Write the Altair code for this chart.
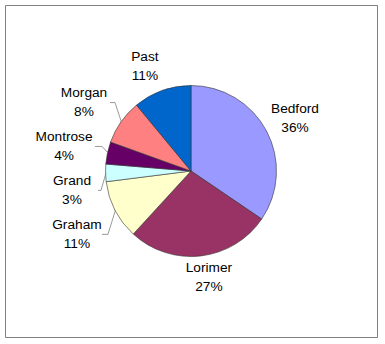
import math
import altair as alt
import pandas as pd

# ---- data ----
names = ["Bedford", "Lorimer", "Graham", "Grand", "Montrose", "Morgan", "Past"]
values = [34.5, 27.3, 11.2, 3.3, 4.2, 8.5, 11.0]
pct_labels = ["36%", "27%", "11%", "3%", "4%", "8%", "11%"]
colors = ["#9999FF", "#993366", "#FFFFCC", "#CCFFFF", "#660066", "#FF8080", "#0066CC"]

# ---- layout ----
W, H = 372, 332
R = 85.5
cx, cy = W / 2, H / 2
LINE_H = 19
label_r = [116.5, 108, 130.5, 120.6, 129.3, 127, 114.2]
label_nudge = [1.1, -2.9, -1.7, -8.0, -1.3, -2.5, -4.0]
leader_start = {2: 25, 3: 26, 4: 31, 5: 26}
leader_elbow = {2: 6, 3: 3, 4: 7, 5: 5}

total = sum(values)
mids = []
acc = 0.0
for v in values:
    mids.append((acc + v / 2) / total * 360.0)
    acc += v

df = pd.DataFrame({"name": names, "value": values, "idx": list(range(len(names)))})

lab_rows = []
for i, n in enumerate(names):
    a = math.radians(mids[i] + label_nudge[i])
    x = cx + label_r[i] * math.sin(a)
    y = cy - label_r[i] * math.cos(a)
    lab_rows.append({"name": n, "text": n + "\n" + pct_labels[i], "x": x, "y": y,
                     "ty": y - LINE_H / 2})
lab = pd.DataFrame(lab_rows)

lead_rows = []
for i, d in leader_start.items():
    lx, ly = lab_rows[i]["x"], lab_rows[i]["y"]
    sx = lx + d
    ex_ = sx + leader_elbow[i]
    a = math.radians(mids[i])
    px = cx + (R - 0.5) * math.sin(a)
    py = cy - (R - 0.5) * math.cos(a)
    lead_rows += [
        {"name": names[i], "o": 0, "x": sx, "y": ly},
        {"name": names[i], "o": 1, "x": ex_, "y": ly},
        {"name": names[i], "o": 2, "x": px, "y": py},
    ]
lead = pd.DataFrame(lead_rows)

pie = alt.Chart(df).mark_arc(outerRadius=R, stroke="#333333", strokeWidth=0.6).encode(
    theta=alt.Theta("value:Q", stack=True),
    color=alt.Color("name:N", scale=alt.Scale(domain=names, range=colors), legend=None),
    order=alt.Order("idx:Q"),
)

leaders = alt.Chart(lead).mark_line(color="#808080", strokeWidth=0.8).encode(
    x=alt.X("x:Q", scale=None),
    y=alt.Y("y:Q", scale=None),
    detail="name:N",
    order="o:Q",
)

text = alt.Chart(lab).mark_text(
    font="Liberation Sans", fontSize=13.7, lineBreak="\n", lineHeight=LINE_H,
    align="center", baseline="middle", color="black",
).encode(
    x=alt.X("x:Q", scale=None),
    y=alt.Y("ty:Q", scale=None),
    text="text:N",
)

chart = alt.layer(pie, leaders, text).properties(
    width=W, height=H,
    autosize=alt.AutoSizeParams(type="none"),
    padding={"left": 5, "top": 5, "right": 8, "bottom": 7},
).configure_view(stroke="#808080", strokeWidth=1)

chart.save("out.html", embed_options={"renderer": "svg", "actions": False})
